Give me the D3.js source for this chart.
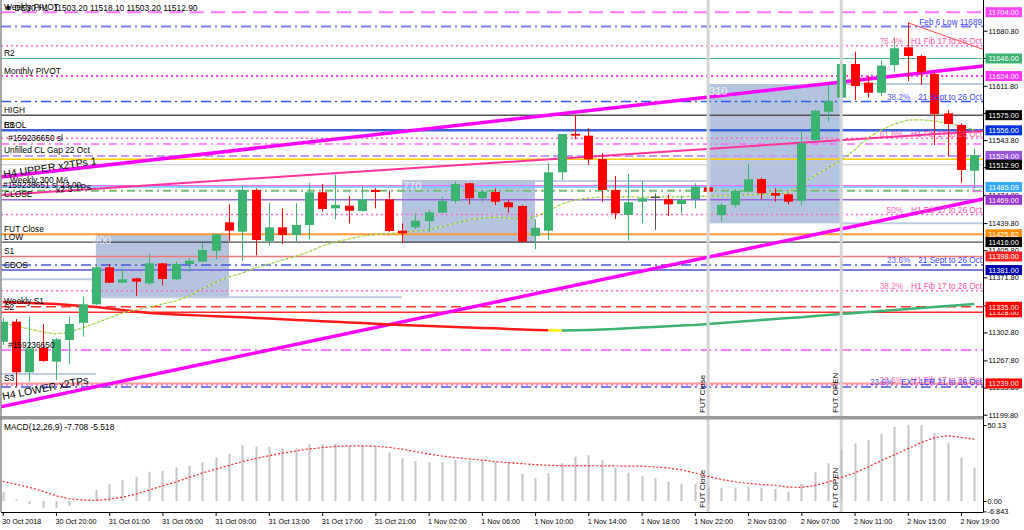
<!DOCTYPE html>
<html><head><meta charset="utf-8">
<script src="https://cdn.jsdelivr.net/npm/d3@7"></script>
<style>
body{margin:0;background:#fff}
svg{display:block}
text{font-family:"Liberation Sans",Arial,sans-serif}
</style>
</head><body>
<svg id="c" width="1024" height="530"></svg>
<script>
// ---------------- DATA ----------------
const timeLabels = ["30 Oct 2018","30 Oct 20:00","31 Oct 01:00","31 Oct 05:00","31 Oct 09:00","31 Oct 13:00","31 Oct 17:00","31 Oct 21:00","1 Nov 02:00","1 Nov 06:00","1 Nov 10:00","1 Nov 14:00","1 Nov 18:00","1 Nov 22:00","2 Nov 03:00","2 Nov 07:00","2 Nov 11:00","2 Nov 15:00","2 Nov 19:00"];
const labelBars = [0,4,8,12,16,20,24,28,32,36,40,44,48,52,56,60,64,68,72];

const opens = [11291.2,11316.3,11252.9,11283.7,11266.2,11293.4,11315.0,11338.1,11384.4,11365.1,
 11370.7,11364.4,11389.4,11369.4,11388.6,11391.4,11405.2,11440.8,11429.0,11481.3,
 11417.4,11434.5,11424.9,11437.4,11478.4,11458.3,11461.6,11455.0,11481.3,11469.6,
 11430.3,11434.5,11442.4,11452.8,11467.5,11489.7,11470.9,11478.8,11465.9,11461.2,
 11423.6,11430.3,11503.4,11551.4,11549.3,11520.1,11481.3,11449.9,11466.6,11472.1,
 11470.0,11463.7,11470.0,11484.6,11449.9,11462.5,11479.1,11495.0,11477.5,11475.9,
 11467.9,11543.9,11579.3,11596.9,11639.1,11615.7,11603.1,11637.8,11660.0,11649.1,
 11626.6,11577.3,11562.7,11505.4];
const highs = [11320.9,11319.7,11322.6,11313.4,11295.9,11322.6,11347.6,11386.1,11388.2,11383.2,
 11371.0,11402.0,11389.8,11391.4,11395.7,11415.2,11426.1,11463.3,11487.5,11483.4,
 11465.4,11458.3,11464.6,11490.4,11488.8,11500.0,11473.7,11485.4,11483.4,11480.4,
 11439.5,11452.1,11456.2,11472.9,11491.7,11490.0,11481.3,11483.4,11468.7,11462.5,
 11444.6,11515.5,11551.4,11575.2,11558.5,11527.2,11498.8,11501.3,11492.5,11477.1,
 11475.0,11474.1,11489.7,11496.7,11465.0,11482.1,11513.8,11496.7,11483.4,11477.1,
 11554.3,11581.5,11612.8,11652.5,11654.5,11624.1,11643.2,11672.5,11690.8,11650.4,
 11629.1,11581.5,11564.8,11533.5];
const lows = [11287.1,11234.9,11241.1,11265.8,11243.3,11262.9,11297.5,11337.2,11364.8,11364.8,
 11348.5,11362.3,11361.4,11368.5,11378.2,11391.1,11394.5,11417.4,11392.7,11399.8,
 11411.5,11413.6,11415.2,11419.5,11454.1,11444.6,11439.5,11454.1,11458.3,11429.0,
 11415.2,11432.0,11429.0,11452.4,11464.6,11463.3,11466.6,11462.5,11452.8,11416.5,
 11407.0,11418.6,11493.8,11544.8,11512.6,11466.6,11444.9,11417.8,11439.5,11431.2,
 11448.7,11451.2,11458.3,11466.6,11441.5,11459.6,11477.9,11470.0,11466.6,11463.3,
 11461.2,11541.8,11566.8,11578.1,11594.0,11596.9,11599.0,11629.4,11617.8,11612.8,
 11537.6,11523.0,11490.4,11483.4];
const closes = [11316.3,11252.9,11283.0,11267.1,11294.2,11313.4,11338.1,11384.4,11365.1,11369.4,
 11366.4,11389.4,11369.8,11388.6,11392.7,11406.1,11425.8,11430.3,11481.3,11418.6,
 11434.5,11424.9,11437.4,11478.4,11457.5,11462.5,11455.3,11469.6,11478.8,11429.9,
 11427.0,11442.8,11453.3,11467.5,11488.8,11470.9,11479.1,11466.6,11459.6,11416.5,
 11434.0,11503.4,11551.4,11549.3,11519.7,11481.3,11452.1,11465.9,11470.9,11472.1,
 11463.3,11468.7,11485.4,11479.1,11462.5,11480.0,11494.7,11477.1,11474.1,11466.6,
 11539.8,11580.6,11592.7,11639.1,11611.5,11603.1,11637.0,11658.8,11649.1,11628.7,
 11576.5,11563.9,11506.3,11525.1];

const maShort = [11314.7,11310.9,11307.1,11303.4,11300.9,11303.4,11308.4,11314.7,11320.9,11327.2,
 11330.9,11334.7,11338.5,11342.2,11348.5,11357.3,11366.0,11372.3,11377.3,11383.6,
 11388.6,11393.6,11398.0,11403.6,11411.1,11416.1,11419.9,11423.6,11425.5,11426.8,
 11428.0,11429.9,11431.2,11434.9,11439.9,11443.7,11446.2,11447.1,11446.2,11444.9,
 11447.4,11455.0,11463.7,11468.7,11471.2,11472.5,11472.4,11472.6,11472.3,11472.5,
 11472.7,11472.6,11473.1,11473.7,11473.9,11475.0,11475.2,11475.6,11476.2,11477.5,
 11488.8,11498.8,11508.8,11518.8,11531.4,11546.4,11556.4,11563.9,11568.9,11569.2,
 11567.7,11565.2,11561.4,11556.4];
const maLong = [11341.0,11340.3,11339.7,11339.1,11338.5,11337.2,11336.0,11334.7,11332.8,11330.9,
 11329.1,11327.2,11326.2,11325.3,11324.7,11323.9,11323.2,11322.6,11321.8,11320.9,
 11320.2,11319.3,11318.4,11317.7,11316.9,11316.3,11315.4,11314.7,11313.8,11312.9,
 11312.2,11311.5,11310.9,11310.3,11309.7,11309.0,11308.4,11308.0,11307.1,11306.5,
 11305.9,11305.5,11305.3,11305.5,11305.9,11306.5,11307.1,11308.0,11308.9,11309.7,
 11310.5,11311.4,11312.2,11313.4,11314.7,11315.9,11317.2,11318.4,11319.7,11320.9,
 11321.9,11323.4,11324.7,11325.9,11327.2,11328.4,11329.7,11330.9,11332.2,11333.5,
 11334.7,11336.0,11337.2,11338.5];

const macdHist = [6.1,1.0,-2.0,-4.4,-4.4,-3.1,0.3,7.3,11.2,13.9,
 16.0,19.3,19.8,22.2,23.3,25.5,28.8,31.0,36.9,35.8,
 35.8,34.7,34.7,37.6,37.6,37.6,36.3,36.3,36.3,32.1,
 28.2,26.4,25.5,25.5,27.0,26.4,26.6,25.5,25.5,17.8,
 15.0,18.3,24.9,29.2,30.3,27.0,22.0,18.7,16.5,15.0,
 12.7,11.2,11.2,9.5,8.4,8.4,9.5,8.4,7.9,6.2,
 11.2,18.9,24.9,33.6,38.0,40.2,44.2,49.0,50.13,50.1,
 44.7,38.5,28.6,22.0];
const macdSignal = [13.0,11.0,9.0,6.5,3.5,1.5,0.7,0.4,1.2,2.5,
 4.5,7.2,10.0,12.5,15.5,18.5,21.0,23.5,26.0,28.0,
 29.8,31.5,33.0,34.3,35.2,36.0,36.4,36.4,36.1,35.4,
 34.2,32.6,31.0,29.7,28.6,27.8,27.0,26.0,25.3,24.6,
 24.0,23.5,23.3,23.3,23.3,23.2,23.1,23.0,23.0,22.5,
 21.8,20.5,18.5,16.2,14.2,12.7,11.6,10.9,10.4,9.2,
 9.0,10.2,12.5,15.5,18.5,22.3,26.5,30.5,34.5,38.5,
 41.8,43.0,42.0,40.8];

const priceTicks = [11680.8,11646.8,11611.8,11577.8,11543.8,11509.8,11474.8,11439.8,11405.8,11371.8,11336.8,11302.8,11267.8,11233.8,11199.8];
const macdTicks = [50.13, 0, -6.843];

// horizontal levels (prices)
const levelPrices = [11704,11686,11662,11646,11624,11592,11575,11556,11546,11539,11524,11519.7,11512.9,11486.7,11485.09,11480.4,11469,11450.5,11425.82,11416,11398,11387.3,11381,11355,11335,11328,11280.8,11239,11237,11234.5];

// price tags on the right axis
const tagPrices = [11704.00,11646.00,11624.00,11575.00,11556.00,11524.00,11485.09,11469.00,11425.82,11416.00,11398.00,11381.00,11328.00,11335.00,11239.00,11512.90];

// left level names
const leftNames = ["Weekly PIVOT","R2","Monthly PIVOT","HIGH","R1","EBOL","#159236650 sl","Unfilled CL Gap 22 Oct","CLOSE","FUT Close","LOW","S1","CBOS","Weekly S1","S2","#159236650","S3"];
const leftNamePrices = [11704,11646,11624,11575,11556,11556,11539,11524,11469,11425.82,11416,11398,11381,11335,11328,11280.8,11239];

// fibonacci texts on the right
const fibPct = ["76.4%","38.2%","61.8%","50%","23.6%","38.2%","23.6%","23.6%"];
const fibDesc = ["H1 Fib 17 to 26 Oct","21 Sept to 26 Oct","H1 Fib 17 to 26 Oct","H1 Fib 17 to 26 Oct","21 Sept to 26 Oct","H1 Fib 17 to 26 Oct","H1 Fib 17 to 26 Oct","EXT 1ER 21 to 26 Oct"];
const fibPrices = [11662,11592,11546,11450.5,11387.3,11355,11237,11234.5];

// rectangles (bar index from/to, price top/bottom)
const boxFrom = [7,30,53], boxTo = [17,40,63];
const boxTop = [11427.0,11493.8,11614.0], boxBottom = [11346.8,11415.2,11439.5];
const boxLabels = ["900","770","310"];

// short segments
const segFrom = [-1,7,-1,40,63,63], segTo = [7,30,7,53,74,74];
const segPrice = [11369.4,11346.8,11250.8,11492.5,11614.0,11439.5];

// trend lines
const trendBar0 = [-0.2,-0.2,-0.2,68], trendP0 = [11497.5,11475.0,11209.5,11690.8];
const trendBar1 = [73.65,73.65,73.65,73.65], trendP1 = [11636.6,11555.2,11470.0,11657.5];

const futBars = [53,63];
const futNames = ["FUT Close","FUT OPEN"];

// ---------------- DRAW ----------------
const svg = d3.select('#c');
const plotL = 1, plotR = 983.5, mainB = 416, macdT = 420, macdB = 512;
const x = d3.scaleLinear().domain([0,72]).range([2.7,961.0]);
const y = d3.scaleLinear().domain([11199.8,11680.8]).range([414.7,30.7]);
const ym = d3.scaleLinear().domain([0,50.13]).range([501,425]);

const defs = svg.append('defs');
defs.append('clipPath').attr('id','cm').append('rect').attr('x',plotL).attr('y',0).attr('width',plotR-plotL).attr('height',mainB);
defs.append('clipPath').attr('id','cd').append('rect').attr('x',plotL).attr('y',macdT).attr('width',plotR-plotL).attr('height',macdB-macdT);

const g = svg.append('g').attr('clip-path','url(#cm)');

// boxes
boxFrom.forEach((b,i)=>{
  g.append('rect').attr('x',x(b)).attr('y',y(boxTop[i])).attr('width',x(boxTo[i])-x(b)).attr('height',y(boxBottom[i])-y(boxTop[i]))
   .attr('fill','#b5c4de');
});
// light cyan edge of the last box
g.append('line').attr('x1',x(boxFrom[2])+1.5).attr('x2',x(boxFrom[2])+1.5).attr('y1',y(boxTop[2])).attr('y2',y(boxBottom[2])).attr('stroke','#a8dcf2').attr('stroke-width',2);
g.append('line').attr('x1',x(boxTo[2])-1).attr('x2',x(boxTo[2])-1).attr('y1',y(boxTop[2])).attr('y2',y(boxBottom[2])).attr('stroke','#a8dcf2').attr('stroke-width',2);

// vertical FUT lines
futBars.forEach(b=>{
  svg.append('line').attr('x1',x(b)).attr('x2',x(b)).attr('y1',0).attr('y2',macdB).attr('stroke','#d4d4d4').attr('stroke-width',3);
});

// level styles (colour, width, dash)
const DOT='2,3', DD='10,4,2,4';
const levelStyles = [
 ['#ff77ff',2,'14,7'],['#7b7bff',2,DD],['#ff66cc',1.5,DOT],['#4dbb80',1.2,null],['#ff44ff',2,DOT],
 ['#3355ee',1.5,DD],['#555555',1.5,null],['#3b62d8',2.5,null],['#ff66cc',1.5,DOT],['#ff66ff',1.5,'8,4,2,4'],
 ['#c49cee',2,'8,4'],['#ffcc00',1.5,null],['#c8c8c8',1.2,null],['#ff66ff',1.5,null],['#66ccff',1.5,null],
 ['#77bb77',2,'8,4,2,4'],['#9966dd',1.5,null],['#ff66cc',1.5,DOT],['#ff9933',2,null],['#222222',1,null],
 ['#ee7777',1.5,null],['#4455dd',1.5,DD],['#7b7be0',2,null],['#ff66cc',1.5,DOT],['#ff3333',1.5,'10,5'],
 ['#ff2a2a',1.5,null],['#ff55ff',1.5,DD],['#ff9999',2,null],['#ff66cc',1.5,DOT],['#4455dd',1.5,DD]
];
levelPrices.forEach((p,i)=>{
  const s = levelStyles[i];
  const ln = g.append('line').attr('x1',plotL).attr('x2',plotR).attr('y1',y(p)).attr('y2',y(p))
    .attr('stroke',s[0]).attr('stroke-width',s[1]);
  if(s[2]) ln.attr('stroke-dasharray',s[2]);
});

// segments
segFrom.forEach((b,i)=>{
  g.append('line').attr('x1',x(b)).attr('x2',x(segTo[i])).attr('y1',y(segPrice[i])).attr('y2',y(segPrice[i]))
   .attr('stroke','#bccbe2').attr('stroke-width',2);
});

// trend lines
const trendStyle = [['#ff00ff',3.5],['#ff3399',2],['#ff00ff',3.5],['#ff4444',1]];
trendBar0.forEach((b,i)=>{
  g.append('line').attr('x1',x(b)).attr('y1',y(trendP0[i])).attr('x2',x(trendBar1[i])).attr('y2',y(trendP1[i]))
   .attr('stroke',trendStyle[i][0]).attr('stroke-width',trendStyle[i][1]);
});

// long MA (red -> yellow -> green)
const lineGen = d3.line().x(d=>x(d[0])).y(d=>y(d[1]));
const longPts = maLong.map((v,i)=>[i,v]);
g.append('path').attr('d',lineGen(longPts.slice(0,42))).attr('fill','none').attr('stroke','#ff1a1a').attr('stroke-width',2.5);
g.append('path').attr('d',lineGen(longPts.slice(41,43))).attr('fill','none').attr('stroke','#ffee00').attr('stroke-width',2.5);
g.append('path').attr('d',lineGen(longPts.slice(42))).attr('fill','none').attr('stroke','#3cb371').attr('stroke-width',2.5);

// short MA dotted (yellow / green)
const shortPts = maShort.map((v,i)=>[i,v]);
g.append('path').attr('d',lineGen(shortPts)).attr('fill','none').attr('stroke','#eeee22').attr('stroke-width',1.2).attr('stroke-dasharray','2,3');
g.append('path').attr('d',lineGen(shortPts)).attr('fill','none').attr('stroke','#66bb88').attr('stroke-width',1.2).attr('stroke-dasharray','2,3').attr('stroke-dashoffset',2.5);

// candles
opens.forEach((o,i)=>{
  const c = closes[i];
  const col = c>o ? '#3cb371' : (c<o ? '#ff0000' : '#555555');
  const cx = Math.round(x(i))+0.5;
  g.append('line').attr('x1',cx).attr('x2',cx).attr('y1',y(highs[i])).attr('y2',y(lows[i])).attr('stroke',col).attr('stroke-width',1);
  const top = y(Math.max(o,c)), bot = y(Math.min(o,c));
  if(c===o){
    g.append('line').attr('x1',cx-4.5).attr('x2',cx+4.5).attr('y1',top).attr('y2',top).attr('stroke',col).attr('stroke-width',1.5);
  } else {
    g.append('rect').attr('x',cx-4.5).attr('y',top).attr('width',9).attr('height',Math.max(1.5,bot-top)).attr('fill',col);
  }
});

// box labels
boxFrom.forEach((b,i)=>{
  g.append('text').attr('x',x(b)+(i===0?-3:1)).attr('y',y(boxTop[i])+10.5).attr('fill','#eef2f8').attr('font-size',11).text(boxLabels[i]);
});

// small bracket near the right end
g.append('rect').attr('x',973).attr('y',y(11486.7)).attr('width',11).attr('height',y(11480.4)-y(11486.7)+1).attr('fill','none').attr('stroke','#ff66ff').attr('stroke-width',1);

// left names
leftNames.forEach((t,i)=>{
  g.append('text').attr('x', t.startsWith('#')?8:4).attr('y',y(leftNamePrices[i])-2.5).attr('font-size',8.4).attr('fill','#000').text(t);
});
g.append('text').attr('x',10).attr('y',183).attr('font-size',8.4).text('Weekly 300 MA');
g.append('text').attr('x',3).attr('y',187.5).attr('font-size',8.4).text('#159236651 sl 23.00');
g.append('text').attr('x',4).attr('y',10.5).attr('font-size',8.4).attr('fill','#000').attr('xml:space','preserve').text('\u25BC DE30,H1  11503.20 11518.10 11503.20 11512.90');

// rotated trend names
g.append('text').attr('transform','translate(4,178) rotate(-8.5)').attr('font-size',10.5).text('H4 UPPER x2TPs 1');
g.append('text').attr('transform','translate(56,193) rotate(-5)').attr('font-size',9).text('x2 3 TPs');
g.append('text').attr('transform','translate(3,400) rotate(-11)').attr('font-size',10.5).text('H4 LOWER x2TPs');

// right side fib texts
fibDesc.forEach((t,i)=>{
  const col = (t.indexOf('Sept')>=0 || t.indexOf('EXT')>=0) ? '#3d3dff' : '#ff4da6';
  const by = y(fibPrices[i]) - 1.8;
  const d = g.append('text').attr('x',982).attr('y',by).attr('text-anchor','end').attr('font-size',8.2).attr('fill',col).text(t);
  const w = d.node().getComputedTextLength();
  g.append('text').attr('x',982-w-8).attr('y',by).attr('text-anchor','end').attr('font-size',8.2).attr('fill',col).attr('opacity',0.85).text(fibPct[i]);
});
g.append('text').attr('x',982).attr('y',y(11686)-1.5).attr('text-anchor','end').attr('font-size',8.2).attr('fill','#3d3dff').text('Feb 6 Low 11689');

// FUT rotated labels in main and MACD
futBars.forEach((b,i)=>{
  svg.append('text').attr('transform',`translate(${x(b)-3},413) rotate(-90)`).attr('font-size',8).text(futNames[i]);
  svg.append('text').attr('transform',`translate(${x(b)-3},508) rotate(-90)`).attr('font-size',8).text(futNames[i]);
});

// ---------------- MACD ----------------
const gm = svg.append('g').attr('clip-path','url(#cd)');
macdHist.forEach((v,i)=>{
  const cx = Math.round(x(i));
  gm.append('rect').attr('x',cx-0.5).attr('width',2).attr('y',Math.min(ym(v),ym(0))).attr('height',Math.abs(ym(v)-ym(0))).attr('fill','#c3c3c3');
});
gm.append('path').attr('d',d3.line().x((d,i)=>x(i)).y(d=>ym(d))(macdSignal)).attr('fill','none').attr('stroke','#ff2020').attr('stroke-width',1.2).attr('stroke-dasharray','2,2');
svg.append('text').attr('x',4).attr('y',430).attr('font-size',8.4).text('MACD(12,26,9) -7.708 -5.518');

// separator & frame
svg.append('rect').attr('x',0).attr('y',416).attr('width',plotR).attr('height',3.5).attr('fill','#9a9a9a');
svg.append('line').attr('x1',1).attr('x2',1).attr('y1',0).attr('y2',macdB).attr('stroke','#888').attr('stroke-width',1.5);
svg.append('line').attr('x1',plotR).attr('x2',plotR).attr('y1',0).attr('y2',macdB).attr('stroke','#000').attr('stroke-width',1);

// ---------------- AXES ----------------
const ax = svg.append('g').attr('transform',`translate(${plotR},0)`)
  .call(d3.axisRight(y).tickValues(priceTicks).tickSize(4).tickPadding(1).tickFormat(d=>d.toFixed(2)));
ax.select('.domain').remove();
ax.selectAll('text').attr('font-size',7.4).attr('font-family','Liberation Sans, Arial');

const axm = svg.append('g').attr('transform',`translate(${plotR},0)`)
  .call(d3.axisRight(ym).tickValues(macdTicks).tickSize(3).tickPadding(1).tickFormat(d=> d===-6.843 ? d.toFixed(3) : d.toFixed(2)));
axm.select('.domain').remove();
axm.selectAll('text').attr('font-size',7.4).attr('font-family','Liberation Sans, Arial');

const axb = svg.append('g').attr('transform',`translate(0,${macdB})`)
  .call(d3.axisBottom(x).tickValues(labelBars).tickSize(4).tickPadding(3).tickFormat((d,i)=>timeLabels[i]));
axb.select('.domain').attr('d',`M1,0.5H${plotR}`);
axb.selectAll('text').attr('text-anchor','start').attr('dx',-1).attr('font-size',7.2).attr('font-family','Liberation Sans, Arial');

// price tags
const tagColors = ['#ff44ff','#3cb371','#ff33ff','#000000','#0033dd','#9955dd','#33aaff','#9933cc','#ff8c00','#000000','#ff2020','#0000aa','#ff0000','#ff0000','#ff0000','#000000'];
tagPrices.forEach((p,i)=>{
  const yy = y(p);
  svg.append('rect').attr('x',985.5).attr('y',yy-5).attr('width',36.5).attr('height',10).attr('fill',tagColors[i]);
  svg.append('text').attr('x',1003.7).attr('y',yy+3).attr('text-anchor','middle').attr('font-size',7.4).attr('fill','#fff').text(p.toFixed(2));
});
</script>
</body></html>
